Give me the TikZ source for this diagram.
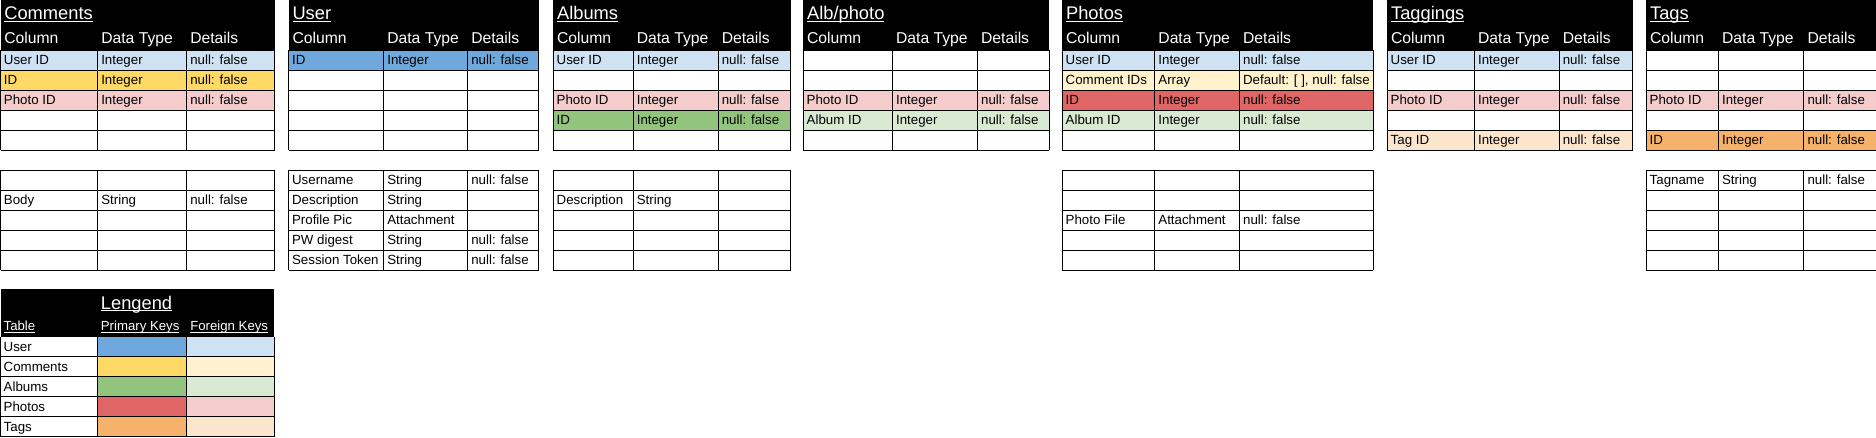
\documentclass[tikz,border=0pt]{standalone}
\usepackage{fontspec}
\setmainfont{Liberation Sans}

% underline set close to the baseline
\newsavebox{\ulbox}
\newcommand{\ulin}[2][1.1pt]{\sbox{\ulbox}{#2}\rlap{\rule[-2.2pt]{\wd\ulbox}{#1}}\usebox{\ulbox}}

% key colours (primary / foreign)
\definecolor{userpk}{HTML}{6FA8DC}
\definecolor{userfk}{HTML}{CFE2F3}
\definecolor{compk}{HTML}{FFD966}
\definecolor{comfk}{HTML}{FFF2CC}
\definecolor{albpk}{HTML}{93C47D}
\definecolor{albfk}{HTML}{D9EAD3}
\definecolor{phopk}{HTML}{E06666}
\definecolor{phofk}{HTML}{F4CCCC}
\definecolor{tagpk}{HTML}{F6B26B}
\definecolor{tagfk}{HTML}{FCE5CD}

\tikzset{
	cell/.style={anchor=base west, inner sep=0pt, font=\fontsize{13.3}{16}\selectfont},
	colhead/.style={anchor=base west, inner sep=0pt, text=white, font=\fontsize{15.7}{19}\selectfont},
	tbltitle/.style={anchor=base west, inner sep=0pt, text=white, font=\fontsize{18.3}{22}\selectfont},
	leghead/.style={anchor=base west, inner sep=0pt, text=white, font=\fontsize{13.2}{16}\selectfont},
	gridline/.style={line width=1pt, black},
}

% column edges of the current table
\newcommand{\setcols}[4]{\def\xa{#1}\def\xb{#2}\def\xc{#3}\def\xd{#4}}
% black head with title and column names
\newcommand{\tablehead}[2]{%
	\fill[black] (\xa,0) rectangle (\xd,50);
	\node[tbltitle] (#1-title) at (\xa+3.6,19.5) {\ulin{#2}};
	\node[colhead] (#1-col) at (\xa+3.6,43) {Column};
	\node[colhead] (#1-type) at (\xb+3.6,43) {Data Type};
	\node[colhead] (#1-det) at (\xc+3.6,43) {Details};
}
% one filled row: name, top, colour, three cells
\newcommand{\tablerow}[6]{%
	\fill[#3] (\xa,#2) rectangle (\xd,#2+20);
	\node[cell] (#1-a) at (\xa+3.2,#2+14.6) {#4};
	\node[cell] (#1-b) at (\xb+3.6,#2+14.6) {#5};
	\if\relax\detokenize{#6}\relax\else
		\node[cell] (#1-c) at (\xc+3.6,#2+14.6) {#6};
	\fi
}
% five rows of lines below a top edge
\newcommand{\tablegrid}[1]{%
	\foreach \rr in {0,...,5}
		\draw[gridline] (\xa,#1+20*\rr) -- (\xd,#1+20*\rr);
	\foreach \xx in {\xa,\xb,\xc,\xd}
		\draw[gridline] (\xx,#1) -- (\xx,#1+100);
}

\begin{document}
\begin{tikzpicture}[x=1pt, y=-1pt]
	\useasboundingbox (0,0) rectangle (1876,437);
	\clip (0,0) rectangle (1876,437);

	% The Comments table
	\setcols{0.5}{97.5}{186.5}{274.5}
	\tablehead{com}{Comments}
	\tablerow{com-uid}{50}{userfk}{User ID}{Integer}{null: false}
	\tablerow{com-id}{70}{compk}{ID}{Integer}{null: false}
	\tablerow{com-pid}{90}{phofk}{Photo ID}{Integer}{null: false}
	\tablerow{com-body}{190}{white}{Body}{String}{null: false}
	\tablegrid{50}
	\tablegrid{170}

	% The User table
	\setcols{288.7}{383.5}{467.5}{538.5}
	\tablehead{usr}{User}
	\tablerow{usr-id}{50}{userpk}{ID}{Integer}{null: false}
	\tablerow{usr-name}{170}{white}{Username}{String}{null: false}
	\tablerow{usr-desc}{190}{white}{Description}{String}{}
	\tablerow{usr-pic}{210}{white}{Profile Pic}{Attachment}{}
	\tablerow{usr-pw}{230}{white}{PW digest}{String}{null: false}
	\tablerow{usr-tok}{250}{white}{Session Token}{String}{null: false}
	\tablegrid{50}
	\tablegrid{170}

	% The Albums table
	\setcols{553.3}{633}{718}{790.5}
	\tablehead{alb}{Albums}
	\tablerow{alb-uid}{50}{userfk}{User ID}{Integer}{null: false}
	\tablerow{alb-pid}{90}{phofk}{Photo ID}{Integer}{null: false}
	\tablerow{alb-id}{110}{albpk}{ID}{Integer}{null: false}
	\tablerow{alb-desc}{190}{white}{Description}{String}{}
	\tablegrid{50}
	\tablegrid{170}

	% The Alb/photo join table
	\setcols{803.3}{892.3}{977.3}{1049.3}
	\tablehead{ap}{Alb/photo}
	\tablerow{ap-pid}{90}{phofk}{Photo ID}{Integer}{null: false}
	\tablerow{ap-aid}{110}{albfk}{Album ID}{Integer}{null: false}
	\tablegrid{50}

	% The Photos table
	\setcols{1062.3}{1154.6}{1239.3}{1373.3}
	\tablehead{pho}{Photos}
	\tablerow{pho-uid}{50}{userfk}{User ID}{Integer}{null: false}
	\tablerow{pho-cid}{70}{comfk}{Comment IDs}{Array}{Default: [ ], null: false}
	\tablerow{pho-id}{90}{phopk}{ID}{Integer}{null: false}
	\tablerow{pho-aid}{110}{albfk}{Album ID}{Integer}{null: false}
	\tablerow{pho-file}{210}{white}{Photo File}{Attachment}{null: false}
	\tablegrid{50}
	\tablegrid{170}

	% The Taggings table
	\setcols{1387.3}{1474.3}{1559}{1632.7}
	\tablehead{tgs}{Taggings}
	\tablerow{tgs-uid}{50}{userfk}{User ID}{Integer}{null: false}
	\tablerow{tgs-pid}{90}{phofk}{Photo ID}{Integer}{null: false}
	\tablerow{tgs-tid}{130}{tagfk}{Tag ID}{Integer}{null: false}
	\tablegrid{50}

	% The Tags table (runs off the right edge)
	\setcols{1646.3}{1718.3}{1803.7}{1890}
	\tablehead{tag}{Tags}
	\tablerow{tag-pid}{90}{phofk}{Photo ID}{Integer}{null: false}
	\tablerow{tag-id}{130}{tagpk}{ID}{Integer}{null: false}
	\tablerow{tag-name}{170}{white}{Tagname}{String}{null: false}
	\tablegrid{50}
	\tablegrid{170}

	% Legend
	\setcols{0.5}{97.3}{186.7}{274.3}
	\fill[black] (\xa,289) rectangle (\xd,336.5);
	\node[tbltitle] (leg-title) at (\xb+3.4,309) {\ulin{Lengend}};
	\node[leghead] (leg-tab) at (\xa+3,330.5) {\ulin[0.8pt]{Table}};
	\node[leghead] (leg-pk) at (\xb+3.4,330.5) {\ulin[0.8pt]{Primary Keys}};
	\node[leghead] (leg-fk) at (\xc+3.4,330.5) {\ulin[0.8pt]{Foreign Keys}};
	\foreach \tname/\pk/\fk [count=\i] in {User/userpk/userfk, Comments/compk/comfk, Albums/albpk/albfk, Photos/phopk/phofk, Tags/tagpk/tagfk} {
		\fill[\pk] (\xb,316.5+20*\i) rectangle (\xc,336.5+20*\i);
		\fill[\fk] (\xc,316.5+20*\i) rectangle (\xd,336.5+20*\i);
		\node[cell] (leg-\i) at (\xa+3,331.1+20*\i) {\tname};
	}
	\tablegrid{336.5}
\end{tikzpicture}
\end{document}
